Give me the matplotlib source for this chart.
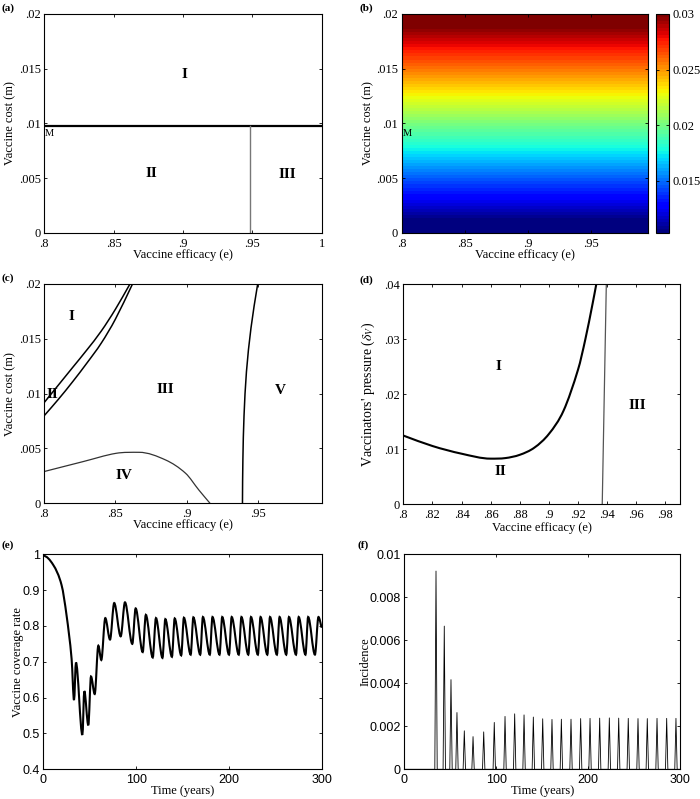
import numpy as np
import matplotlib
matplotlib.use("Agg")
import matplotlib.pyplot as plt
from matplotlib.path import Path
from matplotlib.patches import PathPatch

# ---- data ----
# (a) regions in (efficacy, cost) plane
a_threshold_cost = 0.0098
a_split_efficacy = 0.948

# (b) payoff colour field, varies only with cost
b_cost = [0.0, 0.0025, 0.005, 0.0075, 0.01, 0.0125, 0.015, 0.0175, 0.02]
b_value = [0.0103, 0.0128, 0.0152, 0.0177, 0.0201, 0.0226, 0.0251, 0.0275, 0.0300]
b_efficacy = [0.8, 0.995]

# (c) boundaries
c_upper_e = [0.800, 0.810, 0.820, 0.830, 0.840, 0.850, 0.8602]
c_upper_m = [0.0092, 0.0108, 0.0124, 0.0140, 0.0157, 0.0177, 0.0200]
c_lower_e = [0.800, 0.810, 0.820, 0.830, 0.840, 0.850, 0.862]
c_lower_m = [0.0080, 0.0095, 0.0111, 0.0128, 0.0146, 0.0168, 0.0200]
c_iv_e = [0.800, 0.8272, 0.8505, 0.8667, 0.8853, 0.8993, 0.9086, 0.9165]
c_iv_m = [0.0029, 0.0038, 0.00456, 0.00465, 0.00395, 0.00274, 0.00122, 0.0]
c_v_e = [0.9393, 0.9394, 0.9396, 0.9399, 0.9404, 0.9411, 0.9421, 0.9435, 0.9453, 0.9475, 0.9500]
c_v_m = [0.0, 0.002, 0.004, 0.006, 0.008, 0.010, 0.012, 0.014, 0.016, 0.018, 0.020]

# (d) boundaries in (efficacy, pressure) plane
d_curve_e = [0.80, 0.82, 0.84, 0.86, 0.87, 0.88, 0.89, 0.90, 0.91, 0.92, 0.925, 0.93, 0.9325]
d_curve_p = [0.0125, 0.0106, 0.0092, 0.0083, 0.0084, 0.0090, 0.0103, 0.0128, 0.0170, 0.0245,
             0.0300, 0.0365, 0.0400]
d_line_e = [0.9366, 0.9394]
d_line_p = [0.0, 0.04]

# (e) vaccine coverage, extrema and a few points of the first decline
e_time = [0, 10.8, 19.7, 25.1, 30.5, 33.1, 35.2, 42.1, 44.2, 48.5, 51.4, 55.4, 59.3,
          62.5, 66.8, 71.9, 76.4, 83.4, 88.0, 95.9, 99.5, 107.1, 110.5, 117.9, 121.4,
          128.4, 131.5, 138.6, 141.6, 148.6, 151.5, 158.8, 161.7, 169.1, 172.0,
          179.4, 182.3, 189.9, 192.8, 200.1, 203.0, 210.6, 213.5, 220.9, 223.8,
          231.2, 234.1, 241.4, 244.3, 251.7, 254.6, 261.8, 264.7, 272.3, 275.2,
          282.5, 285.4, 292.7, 296.5, 300]
e_cov = [0.996, 0.970, 0.914, 0.829, 0.708, 0.593, 0.698, 0.496, 0.618, 0.523, 0.659, 0.610, 0.745,
         0.705, 0.822, 0.762, 0.864, 0.771, 0.866, 0.750, 0.849, 0.727, 0.831, 0.712, 0.822,
         0.711, 0.819, 0.714, 0.821, 0.718, 0.823, 0.720, 0.824, 0.720, 0.825,
         0.720, 0.825, 0.720, 0.825, 0.720, 0.825, 0.720, 0.825, 0.720, 0.825,
         0.720, 0.825, 0.720, 0.825, 0.720, 0.825, 0.720, 0.825, 0.720, 0.825,
         0.720, 0.825, 0.720, 0.825, 0.795]

# (f) incidence spikes
f_spike_t = [34.5, 43.5, 50.8, 57.3, 65.3, 74.8, 86.4, 97.9, 109.6, 120.1, 130.3, 140.4,
             150.6, 160.7, 170.9, 181.4, 191.9, 202.1, 212.6, 223.1, 233.3, 243.7, 254.3,
             264.4, 275.0, 285.5, 295.6]
f_spike_h = [0.00922, 0.00666, 0.00417, 0.00264, 0.00179, 0.00152, 0.00174, 0.00218,
             0.00246, 0.00258, 0.00253, 0.00243, 0.00235, 0.00232, 0.00233, 0.00233,
             0.00236, 0.00237, 0.00238, 0.00239, 0.00238, 0.00237, 0.00236, 0.00236,
             0.00237, 0.00237, 0.00237]

# ---- style ----
plt.rcParams['font.family'] = ['Liberation Serif', 'DejaVu Serif']
plt.rcParams['mathtext.fontset'] = 'stix'
plt.rcParams['xtick.direction'] = 'in'
plt.rcParams['ytick.direction'] = 'in'
plt.rcParams['xtick.top'] = True
plt.rcParams['ytick.right'] = True
plt.rcParams['xtick.major.size'] = 2.5
plt.rcParams['ytick.major.size'] = 2.5
plt.rcParams['xtick.major.width'] = 0.6
plt.rcParams['ytick.major.width'] = 0.6
plt.rcParams['xtick.major.pad'] = 3.5
plt.rcParams['ytick.major.pad'] = 2.5
plt.rcParams['axes.linewidth'] = 0.8
plt.rcParams['font.size'] = 9

TICK_FS = 9
LABEL_FS = 9
REGION_FS = 11
SANS = 'Liberation Sans'


def smooth_path(x, y, flat_start=False):
    # cubic Hermite rendering through the read points, flat at extrema
    x = np.asarray(x, float)
    y = np.asarray(y, float)
    n = len(x)
    s = np.zeros(n)
    for i in range(1, n - 1):
        if (y[i] - y[i - 1]) * (y[i + 1] - y[i]) > 0:
            s[i] = (y[i + 1] - y[i - 1]) / (x[i + 1] - x[i - 1])
    if not flat_start:
        s[0] = (y[1] - y[0]) / (x[1] - x[0])
    s[-1] = (y[-1] - y[-2]) / (x[-1] - x[-2])
    verts = [(x[0], y[0])]
    codes = [Path.MOVETO]
    for i in range(n - 1):
        dx = (x[i + 1] - x[i]) / 3.0
        verts += [(x[i] + dx, y[i] + s[i] * dx),
                  (x[i + 1] - dx, y[i + 1] - s[i + 1] * dx),
                  (x[i + 1], y[i + 1])]
        codes += [Path.CURVE4] * 3
    return Path(verts, codes)


def add_curve(ax, x, y, lw, color='k', flat_start=False):
    p = smooth_path(x, y, flat_start)
    ax.add_patch(PathPatch(p, fill=False, lw=lw, edgecolor=color))


def region(ax, txt, x, y):
    ax.text(x, y, txt, fontsize=REGION_FS, fontweight='bold', ha='center', va='center')


def labels(ax, xl, yl, xpos, ypos, yfs=LABEL_FS):
    ax.set_xlabel(xl, fontsize=LABEL_FS, va='center')
    ax.set_ylabel(yl, fontsize=yfs, va='center')
    ax.xaxis.set_label_coords(0.5, xpos)
    ax.yaxis.set_label_coords(ypos, 0.5)


W, H = 700, 799
fig = plt.figure(figsize=(7, 7.99), dpi=100)


def box(l, t, r, b):
    return [l / W, 1 - b / H, (r - l) / W, (b - t) / H]


ax_a = fig.add_axes(box(44.3, 14, 321.7, 232.7))
ax_b = fig.add_axes(box(401.7, 14, 647.7, 232.7))
cax = fig.add_axes(box(656, 14, 669.3, 232.7))
ax_c = fig.add_axes(box(44.3, 284, 321.7, 503.3))
ax_d = fig.add_axes(box(403.3, 284.3, 680, 504.3))
ax_e = fig.add_axes(box(43.3, 554.3, 321.7, 769.3))
ax_f = fig.add_axes(box(404.3, 554.3, 680, 769.3))

cost_ticks = [0, 0.005, 0.01, 0.015, 0.02]
cost_labels = ['0', '.005', '.01', '.015', '.02']

# (a)
ax_a.plot([0.8, 1.0], [a_threshold_cost, a_threshold_cost], color='k', lw=1.6)
ax_a.plot([a_split_efficacy, a_split_efficacy], [0, a_threshold_cost], color='#777777', lw=1.0)
ax_a.set_xlim(0.8, 1.0)
ax_a.set_ylim(0, 0.02)
ax_a.set_xticks([0.8, 0.85, 0.9, 0.95, 1.0], ['.8', '.85', '.9', '.95', '1'], fontsize=TICK_FS)
ax_a.set_yticks(cost_ticks, cost_labels, fontsize=TICK_FS)
region(ax_a, 'I', 0.901, 0.0145)
region(ax_a, 'II', 0.877, 0.0054)
region(ax_a, 'III', 0.975, 0.0053)
ax_a.text(0.8005, 0.0091, 'M', fontsize=7.5, ha='left', va='center')
labels(ax_a, 'Vaccine efficacy (e)', 'Vaccine cost (m)', -0.102, -0.124)

# (b)
field = np.column_stack([b_value, b_value])
im = ax_b.imshow(field, origin='lower', aspect='auto', cmap=plt.get_cmap('jet', 64),
                 extent=[b_efficacy[0], b_efficacy[1], b_cost[0], b_cost[-1]],
                 interpolation='bilinear', vmin=min(b_value), vmax=max(b_value))
ax_b.set_xlim(b_efficacy)
ax_b.set_ylim(0, 0.02)
ax_b.set_xticks([0.8, 0.85, 0.9, 0.95], ['.8', '.85', '.9', '.95'], fontsize=TICK_FS)
ax_b.set_yticks(cost_ticks, cost_labels, fontsize=TICK_FS)
ax_b.text(0.8012, 0.0091, 'M', fontsize=7.5, ha='left', va='center')
labels(ax_b, 'Vaccine efficacy (e)', 'Vaccine cost (m)', -0.102, -0.136)
cb = fig.colorbar(im, cax=cax, ticks=[0.015, 0.02, 0.025, 0.03])
cb.ax.set_yticklabels(['0.015', '0.02', '0.025', '0.03'], fontsize=TICK_FS)
cb.ax.tick_params(direction='in', left=True, right=True, length=2.5, width=0.6, pad=2)
cb.outline.set_linewidth(0.8)

# (c)
add_curve(ax_c, c_upper_e, c_upper_m, 1.1)
add_curve(ax_c, c_lower_e, c_lower_m, 1.1)
add_curve(ax_c, c_iv_e, c_iv_m, 0.9, '#333333')
ax_c.plot(c_v_e, c_v_m, color='k', lw=1.1)
ax_c.set_xlim(0.8, 0.995)
ax_c.set_ylim(0, 0.02)
ax_c.set_xticks([0.8, 0.85, 0.9, 0.95], ['.8', '.85', '.9', '.95'], fontsize=TICK_FS)
ax_c.set_yticks(cost_ticks, cost_labels, fontsize=TICK_FS)
region(ax_c, 'I', 0.819, 0.0170)
region(ax_c, 'II', 0.8055, 0.0099)
region(ax_c, 'III', 0.885, 0.0104)
region(ax_c, 'IV', 0.856, 0.0025)
region(ax_c, 'V', 0.966, 0.0103)
labels(ax_c, 'Vaccine efficacy (e)', 'Vaccine cost (m)', -0.099, -0.124)

# (d)
add_curve(ax_d, d_curve_e, d_curve_p, 1.5)
ax_d.plot(d_line_e, d_line_p, color='#555555', lw=0.9)
ax_d.set_xlim(0.8, 0.99)
ax_d.set_ylim(0, 0.04)
d_xt = [0.8, 0.82, 0.84, 0.86, 0.88, 0.9, 0.92, 0.94, 0.96, 0.98]
ax_d.set_xticks(d_xt, ['.8', '.82', '.84', '.86', '.88', '.9', '.92', '.94', '.96', '.98'],
                fontsize=TICK_FS)
ax_d.set_yticks([0, 0.01, 0.02, 0.03, 0.04], ['0', '.01', '.02', '.03', '.04'], fontsize=TICK_FS)
region(ax_d, 'I', 0.8655, 0.0250)
region(ax_d, 'II', 0.8665, 0.0059)
region(ax_d, 'III', 0.961, 0.0179)
labels(ax_d, 'Vaccine efficacy (e)', r"Vaccinators' pressure ($\delta_V$)", -0.106, -0.128, yfs=10)

# (e)
add_curve(ax_e, e_time, e_cov, 1.5, flat_start=True)
ax_e.set_xlim(0, 300)
ax_e.set_ylim(0.4, 1.0)
ax_e.set_xticks([0, 100, 200, 300], ['0', '100', '200', '300'], fontsize=TICK_FS, fontfamily=SANS)
ax_e.set_yticks([0.4, 0.5, 0.6, 0.7, 0.8, 0.9, 1.0],
                ['0.4', '0.5', '0.6', '0.7', '0.8', '0.9', '1'], fontsize=TICK_FS, fontfamily=SANS)
labels(ax_e, 'Time (years)', 'Vaccine coverage rate', -0.099, -0.090)

# (f)
xs, ys = [0], [0]
for t, h in zip(f_spike_t, f_spike_h):
    xs += [t - 1.3, t, t + 1.3]
    ys += [0, h, 0]
xs.append(300)
ys.append(0)
ax_f.plot(xs, ys, color='k', lw=0.6)
ax_f.set_xlim(0, 300)
ax_f.set_ylim(0, 0.01)
ax_f.set_xticks([0, 100, 200, 300], ['0', '100', '200', '300'], fontsize=TICK_FS, fontfamily=SANS)
ax_f.set_yticks([0, 0.002, 0.004, 0.006, 0.008, 0.01],
                ['0', '0.002', '0.004', '0.006', '0.008', '0.01'], fontsize=TICK_FS, fontfamily=SANS)
labels(ax_f, 'Time (years)', 'Incidence', -0.099, -0.140)

# panel letters
for txt, x, y in [('(a)', 2, 8), ('(b)', 359, 8), ('(c)', 2, 278), ('(d)', 359, 280),
                  ('(e)', 2, 545), ('(f)', 358, 545)]:
    fig.text(x / W, 1 - y / H, txt, fontsize=8, fontweight='bold', ha='left', va='center')

fig.savefig('out.png', dpi=100)
